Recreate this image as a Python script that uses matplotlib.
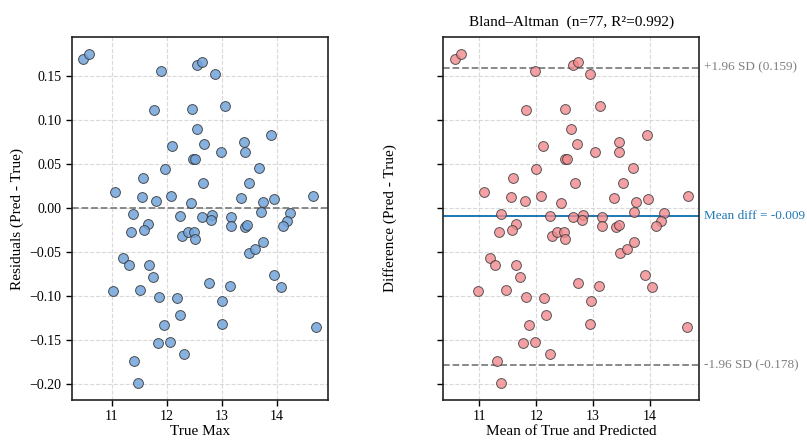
import numpy as np
import matplotlib
matplotlib.use("Agg")
import matplotlib.pyplot as plt
import matplotlib.transforms as mtransforms

plt.rcParams['font.family'] = ['Liberation Serif', 'DejaVu Serif']
plt.rcParams['mathtext.fontset'] = 'stix'

# true max values and residuals (pred - true)
true_max = np.array([
    10.485, 10.594, 11.897, 11.770, 12.558, 12.648, 12.873, 12.455, 13.055, 12.558,
    12.679, 12.091, 12.994, 13.412, 13.418, 13.903, 12.473, 12.509, 11.970, 13.679,
    11.570, 12.661, 13.503, 11.067, 11.552, 11.800, 12.079, 12.436, 13.358, 13.745,
    13.958, 14.655, 11.390, 12.242, 12.648, 12.818, 13.161, 13.715, 14.242, 12.806,
    13.170, 14.194, 14.121, 11.352, 11.661, 11.588, 12.285, 12.382, 12.497, 12.521,
    13.418, 13.467, 13.491, 13.612, 13.745, 11.206, 11.315, 11.673, 11.758, 11.024,
    11.521, 11.867, 12.194, 12.770, 13.145, 13.945, 14.073, 13.012, 12.236, 11.945,
    13.006, 14.721, 11.848, 12.061, 12.321, 11.400, 11.473,
])
residuals = np.array([
    0.169, 0.175, 0.155, 0.111, 0.162, 0.165, 0.152, 0.112, 0.115, 0.090,
    0.073, 0.070, 0.063, 0.075, 0.063, 0.083, 0.055, 0.055, 0.044, 0.045,
    0.034, 0.028, 0.028, 0.018, 0.012, 0.0075, 0.014, 0.006, 0.011, 0.007,
    0.010, 0.014, -0.0065, -0.0094, -0.0106, -0.0083, -0.0108, -0.0048, -0.0060, -0.0132,
    -0.021, -0.0147, -0.020, -0.027, -0.0185, -0.025, -0.032, -0.0275, -0.0275, -0.035,
    -0.022, -0.019, -0.0506, -0.046, -0.039, -0.0566, -0.065, -0.0645, -0.0785, -0.0936,
    -0.0928, -0.101, -0.102, -0.085, -0.088, -0.0755, -0.090, -0.105, -0.121, -0.133,
    -0.132, -0.1355, -0.153, -0.152, -0.166, -0.173, -0.199,
])

n_points = 77
r2 = 0.992
mean_diff = -0.009
loa_upper = 0.159
loa_lower = -0.178

pred_max = true_max + residuals
ba_mean = (true_max + pred_max) / 2
ba_diff = pred_max - true_max

fig = plt.figure(figsize=(8.07, 4.41), dpi=100)
ax1 = fig.add_axes([0.0888, 0.093, 0.3176, 0.823])
ax2 = fig.add_axes([0.5493, 0.093, 0.3172, 0.823], sharey=ax1)

for ax in (ax1, ax2):
    ax.grid(True, linestyle='--', color='#d0d0d0', linewidth=0.8, alpha=0.8)
    ax.set_axisbelow(True)
    for sp in ax.spines.values():
        sp.set_linewidth(1.2)
        sp.set_color('#222222')
    ax.tick_params(labelsize=10, width=1.0, length=4)

# residual plot
ax1.scatter(true_max, residuals, s=50, color='#72a5db', alpha=0.85,
            edgecolor='#333333', linewidth=0.7, zorder=3)
ax1.axhline(0, color='gray', linestyle='--', linewidth=1.3, zorder=2)
ax1.set_xlabel('True Max', fontsize=11, labelpad=1)
ax1.set_ylabel('Residuals (Pred - True)', fontsize=11)

# Bland-Altman
ax2.scatter(ba_mean, ba_diff, s=50, color='#f08a8e', alpha=0.8,
            edgecolor='#333333', linewidth=0.7, zorder=3)
ax2.axhline(mean_diff, color='#1f77b4', linewidth=1.4, zorder=2)
ax2.axhline(loa_upper, color='gray', linestyle='--', linewidth=1.3, zorder=2)
ax2.axhline(loa_lower, color='gray', linestyle='--', linewidth=1.3, zorder=2)
ax2.set_xlabel('Mean of True and Predicted', fontsize=11, labelpad=1)
ax2.set_ylabel('Difference (Pred - True)', fontsize=11, labelpad=29)
ax2.tick_params(labelleft=False)
ax2.set_title('Bland\u2013Altman  (n=%d, R\u00b2=%.3f)' % (n_points, r2), fontsize=11, pad=8)

trans = mtransforms.blended_transform_factory(ax2.transAxes, ax2.transData)
ax2.text(1.02, loa_upper, '+1.96 SD (%.3f)' % loa_upper, transform=trans,
         color='gray', fontsize=9.5, va='center', ha='left')
ax2.text(1.02, mean_diff, 'Mean diff = %.3f' % mean_diff, transform=trans,
         color='#1f77b4', fontsize=9.5, va='center', ha='left')
ax2.text(1.02, loa_lower, '-1.96 SD (%.3f)' % loa_lower, transform=trans,
         color='gray', fontsize=9.5, va='center', ha='left')

fig.savefig('out.png', dpi=100)
